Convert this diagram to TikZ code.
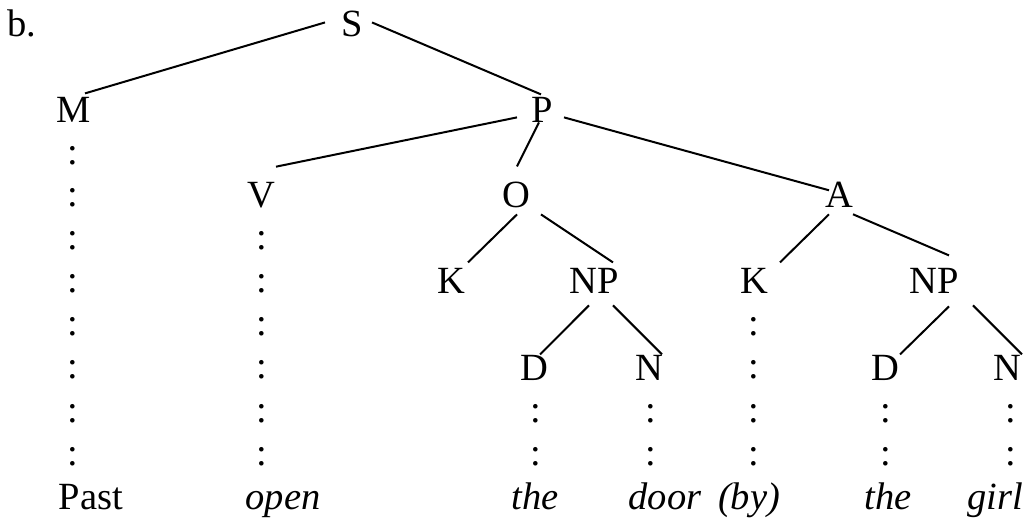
\documentclass[tikz,border=0pt]{standalone}
\usepackage{fontspec}
\setmainfont{Liberation Serif}
\begin{document}
\begin{tikzpicture}[x=1pt,y=-1pt,
  lbl/.style={inner sep=0pt, anchor=base, font=\fontsize{38.5}{45}\selectfont},
  wd/.style={inner sep=0pt, anchor=base, font=\fontsize{38.5}{45}\selectfont\itshape},
  edge/.style={line width=2pt}]
\useasboundingbox (0,0) rectangle (1036,518);
% labels
\node[lbl] (b) at (22,37) {b.};
\node[lbl] (S) at (352,37) {S};
\node[lbl] (M) at (74,123) {M};
\node[lbl] (P) at (542,123) {P};
\node[lbl] (V) at (261,208) {V};
\node[lbl] (O) at (516,208) {O};
\node[lbl] (A) at (839,208) {A};
\node[lbl] (K1) at (451,294) {K};
\node[lbl] (NP1) at (594,294) {NP};
\node[lbl] (K2) at (754,294) {K};
\node[lbl] (NP2) at (934,294) {NP};
\node[lbl] (D1) at (534,381) {D};
\node[lbl] (N1) at (649,381) {N};
\node[lbl] (D2) at (885,381) {D};
\node[lbl] (N2) at (1007,381) {N};
% words
\node[lbl] (w1) at (91,509) {Past};
\node[wd] (w2) at (283,509) {open};
\node[wd] (w3) at (535,509) {the};
\node[wd] (w4) at (665,509) {door};
\node[wd] (w5) at (749,509) {(by)};
\node[wd] (w6) at (888,509) {the};
\node[wd] (w7) at (995,509) {girl};
% colon columns
\foreach \y [count=\i] in {165,207,250,293,336,379,422,465}
  \node[lbl] (cM\i) at (73,\y) {:};
\foreach \y [count=\i] in {250,293,336,379,422,465}
  \node[lbl] (cV\i) at (262,\y) {:};
\foreach \y [count=\i] in {336,379,422,465}
  \node[lbl] (cK\i) at (754,\y) {:};
\foreach \y [count=\i] in {422,465}{
  \node[lbl] (cDa\i) at (536,\y) {:};
  \node[lbl] (cNa\i) at (651,\y) {:};
  \node[lbl] (cDb\i) at (886,\y) {:};
  \node[lbl] (cNb\i) at (1011,\y) {:};
}
% edges
\draw[edge] ([shift={(-27,-2)}]S.center) -- ([shift={(11,-17)}]M.center);
\draw[edge] ([shift={(20,-2)}]S.center) -- ([shift={(-1,-16)}]P.center);
\draw[edge] ([shift={(-25,7)}]P.center) -- ([shift={(15,-29)}]V.center);
\draw[edge] ([shift={(-3,12)}]P.center) -- ([shift={(1,-29)}]O.center);
\draw[edge] ([shift={(22,7)}]P.center) -- ([shift={(-10,-5)}]A.center);
\draw[edge] ([shift={(1,19)}]O.center) -- ([shift={(17,-19)}]K1.center);
\draw[edge] ([shift={(25,19)}]O.center) -- ([shift={(19,-19)}]NP1.center);
\draw[edge] ([shift={(-10,19)}]A.center) -- ([shift={(26,-19)}]K2.center);
\draw[edge] ([shift={(14,19)}]A.center) -- ([shift={(15,-26)}]NP2.center);
\draw[edge] ([shift={(-5,24)}]NP1.center) -- ([shift={(6,-14)}]D1.center);
\draw[edge] ([shift={(19,24)}]NP1.center) -- ([shift={(13,-14)}]N1.center);
\draw[edge] ([shift={(15,25)}]NP2.center) -- ([shift={(15,-14)}]D2.center);
\draw[edge] ([shift={(39,24)}]NP2.center) -- ([shift={(15,-14)}]N2.center);
\end{tikzpicture}
\end{document}
